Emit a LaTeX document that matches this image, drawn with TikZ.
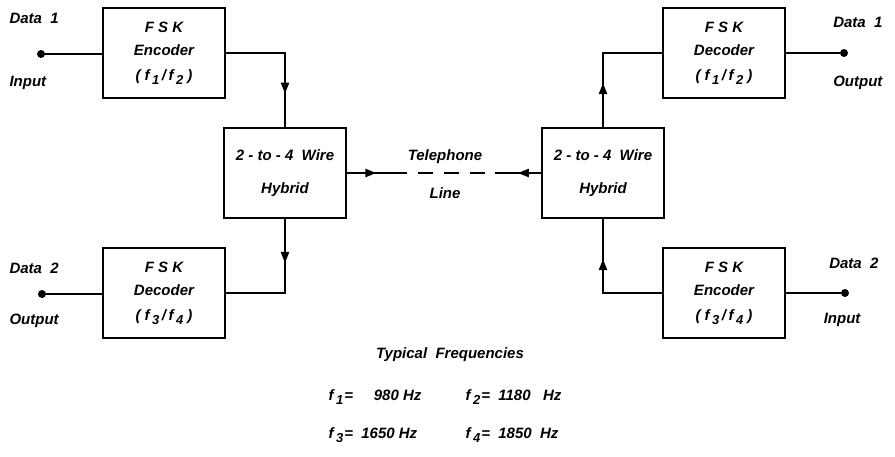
\documentclass[tikz,border=0pt]{standalone}
\usepackage{fontspec}
\setmainfont{Liberation Sans}
\usetikzlibrary{arrows.meta,decorations.markings}
\newcommand\fsub[1]{f\kern2.5pt\raisebox{-0.55ex}{\fontsize{13}{15}\selectfont #1}}
\begin{document}
\begin{tikzpicture}[x=1pt,y=-1pt,
  txt/.style={font=\fontsize{15}{18}\selectfont\bfseries\itshape},
  blockbox/.style={draw,line width=2.6pt,minimum width=122pt,minimum height=90pt,inner sep=0pt,align=center,txt},
  conn/.style={line width=2.2pt},
  tel/.style={line width=2.6pt,dash pattern=on 15pt off 11pt},
  dot/.style={circle,fill,inner sep=0pt,minimum size=8pt},
  midarrow/.style={postaction={decorate},decoration={markings,mark=at position #1 with {\arrow{Triangle[length=11pt,width=8pt]}}}}
]
\useasboundingbox (0,0) rectangle (895,456);
% blocks
\node[blockbox] (encA) at (164,53) {F S K\\[5pt]Encoder\\[7pt](\ \fsub{1}\,/\,\fsub{2}\ )};
\node[blockbox] (decA) at (164,293) {F S K\\[5pt]Decoder\\[7pt](\ \fsub{3}\,/\,\fsub{4}\ )};
\node[blockbox] (hybL) at (285,173) {2 - to - 4\ \ Wire\\[15pt]Hybrid};
\node[blockbox] (hybR) at (603,173) {2 - to - 4\ \ Wire\\[15pt]Hybrid};
\node[blockbox] (decB) at (724,53) {F S K\\[5pt]Decoder\\[7pt](\ \fsub{1}\,/\,\fsub{2}\ )};
\node[blockbox] (encB) at (724,293) {F S K\\[5pt]Encoder\\[7pt](\ \fsub{3}\,/\,\fsub{4}\ )};
% terminals
\node[dot] (inA) at (41,54) {};
\node[dot] (outA) at (42,294) {};
\node[dot] (outB) at (844,53) {};
\node[dot] (inB) at (845,293) {};
% labels
\node[txt,anchor=west] (l1) at (6,18) {Data\ \ 1};
\node[txt,anchor=west] (l2) at (6,83) {Input};
\node[txt,anchor=west] (l3) at (6,268) {Data\ \ 2};
\node[txt,anchor=west] (l4) at (6,321) {Output};
\node[txt,anchor=east] (l5) at (886,22) {Data\ \ 1};
\node[txt,anchor=east] (l6) at (886,83) {Output};
\node[txt,anchor=east] (l7) at (882,263) {Data\ \ 2};
\node[txt,anchor=east] (l8) at (864,320) {Input};
\node[txt] (tel1) at (445,157) {Telephone};
\node[txt] (tel2) at (445,193) {Line};
% connectors
\draw[conn] (inA) -- (inA -| encA.west);
\draw[conn] (outA) -- (outA -| decA.west);
\draw[conn] (outB) -- (outB -| decB.east);
\draw[conn] (inB) -- (inB -| encB.east);
\draw[conn,midarrow=0.75] (encA.east) -| (hybL.north);
\draw[conn,midarrow=0.33] (hybL.south) |- (decA.east);
\draw[conn,midarrow=0.33] (hybR.north) |- (decB.west);
\draw[conn,midarrow=0.70] (encB.west) -| (hybR.south);
\coordinate (tA) at (392,173);
\coordinate (tB) at (495,173);
\draw[conn,line width=2.4pt,midarrow=0.65] (hybL.east) -- (tA);
\draw[tel] (tA) -- (tB);
\draw[conn,line width=2.4pt,midarrow=0.5] (hybR.west) -- (tB);
% frequencies
\node[txt] (tf) at (450,355) {Typical\ \ Frequencies};
\node[txt,anchor=west] (f1) at (325,397) {\fsub{1}\kern1pt=\ \ \ \ \ 980 Hz};
\node[txt,anchor=west] (f2) at (462,397) {\fsub{2}\kern1pt=\ \ 1180\ \ \ Hz};
\node[txt,anchor=west] (f3) at (325,435) {\fsub{3}\kern1pt=\ \ 1650 Hz};
\node[txt,anchor=west] (f4) at (462,435) {\fsub{4}\kern1pt=\ \ 1850\ \ Hz};
\end{tikzpicture}
\end{document}
